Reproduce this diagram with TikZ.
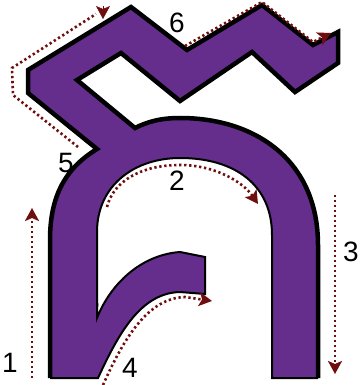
\documentclass[tikz,border=0pt]{standalone}
\usepackage{fontspec}
\setmainfont{Liberation Sans}
\usetikzlibrary{arrows.meta}
\definecolor{glyph}{RGB}{101,46,141}
\definecolor{arr}{RGB}{110,14,14}
\begin{document}
\begin{tikzpicture}[x=1pt,y=-1pt,
  tipstyle/.style={-{Stealth[length=13pt,width=14pt,inset=3pt]}},
  dots/.style={draw=arr, line width=2.6pt, dash pattern=on 2.3pt off 2.7pt},
  lbl/.style={font=\fontsize{28}{28}\selectfont, inner sep=0pt},
  heavy/.style={line width=4.5pt, line join=miter, miter limit=6},
  light/.style={line width=2pt, line join=miter}]
\useasboundingbox (0,0) rectangle (360,385);
% partly hidden label
\node[lbl] (h5) at (92,302) {5};
% glyph fill
\path[fill=glyph] (50,378) -- (98,378) .. controls (118,335) and (140,293) .. (180,292) -- (205,294) -- (205,257) -- (180,252)
  .. controls (140,255) and (110,285) .. (97,318) -- (97,232) .. controls (97,185) and (135,158) .. (180,158)
  .. controls (235,158) and (272,185) .. (272,235) -- (272,378) -- (318,378) -- (318,245)
  .. controls (318,160) and (255,118) .. (180,118) .. controls (160,118) and (147,122) .. (135,128)
  -- (77,80) -- (121,53) -- (180,101) -- (252,52) -- (295,92) -- (338,63) -- (338,32) -- (313,45) -- (262,5)
  -- (187,50) -- (131,7) -- (28,70) -- (28,93) -- (97,149) .. controls (66,168) and (50,195) .. (50,240) -- cycle;
% light edges
\draw[light] (50,378) -- (98,378) .. controls (118,335) and (140,293) .. (180,292) -- (205,294) -- (205,257) -- (180,252)
  .. controls (140,255) and (110,285) .. (97,318) -- (97,232) .. controls (97,185) and (135,158) .. (180,158)
  .. controls (235,158) and (272,185) .. (272,235) -- (272,378) -- (318,378);
% heavy edges
\draw[heavy] (318,378) -- (318,245)
  .. controls (318,160) and (255,118) .. (180,118) .. controls (160,118) and (147,122) .. (135,128)
  -- (77,80) -- (121,53) -- (180,101) -- (252,52) -- (295,92) -- (338,63) -- (338,32) -- (313,45) -- (262,5)
  -- (187,50) -- (131,7) -- (28,70) -- (28,93) -- (97,149) .. controls (66,168) and (50,195) .. (50,240) -- (50,378);
% dotted arrows
\coordinate (a1s) at (32,378); \coordinate (a1e) at (32,208);
\draw[dots,tipstyle] (a1s) -- (a1e);
\coordinate (a2s) at (107,207); \coordinate (a2m) at (180,165); \coordinate (a2e) at (258,204);
\draw[dots,tipstyle] (a2s) .. controls (113,182) and (140,165) .. (a2m) .. controls (215,165) and (243,182) .. (a2e);
\coordinate (a3s) at (335,195); \coordinate (a3e) at (335,374);
\draw[dots,tipstyle] (a3s) -- (a3e);
\coordinate (a4s) at (103,385); \coordinate (a4e) at (212,301);
\draw[dots,tipstyle] (a4s) .. controls (124,338) and (148,298) .. (185,297) -- (a4e);
\coordinate (a5s) at (78,147); \coordinate (a5e) at (96,14);
\draw[dots] (a5s) -- (13,95) -- (12,68) -- (a5e);
\coordinate (a5h) at (103,6); \coordinate (a5t) at (103,19);
\draw[draw=arr, line width=0.5pt, tipstyle] (a5h) -- (a5t);
\coordinate (a6s) at (185,46); \coordinate (a6e) at (331,33);
\draw[dots,tipstyle] (a6s) -- (262,2) -- (313,42) -- (a6e);
% labels
\node[lbl] (l1) at (10,363) {1};
\node[lbl] (l2) at (177,181) {2};
\node[lbl] (l3) at (351,252) {3};
\node[lbl] (l4) at (130,368) {4};
\node[lbl] (l5) at (66,163) {5};
\node[lbl] (l6) at (177,23) {6};
\end{tikzpicture}
\end{document}
